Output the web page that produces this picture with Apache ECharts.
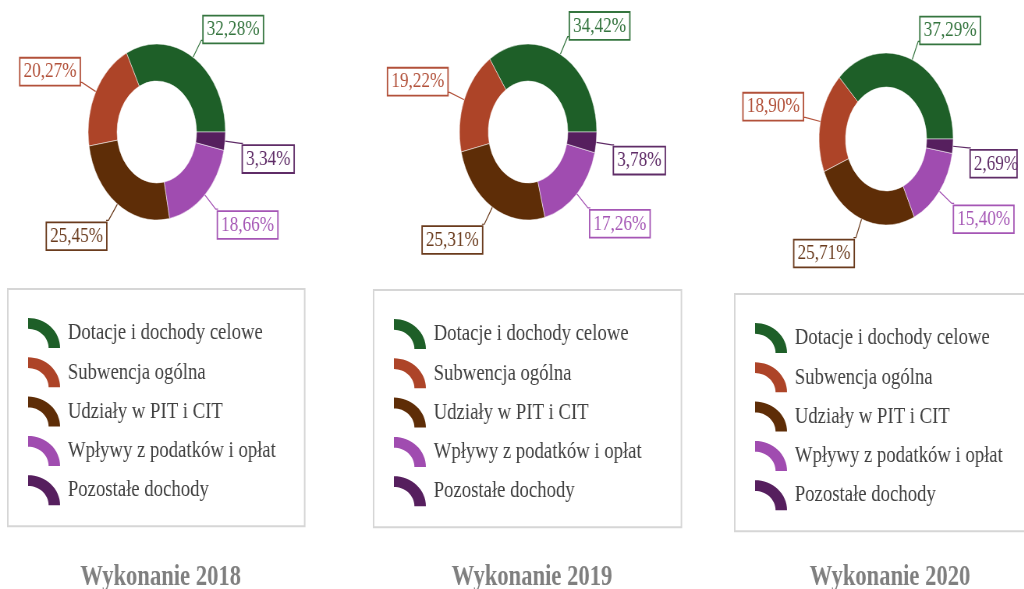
<!DOCTYPE html>
<html>
<head>
<meta charset="utf-8">
<script src="https://cdn.jsdelivr.net/npm/echarts@6/dist/echarts.min.js"></script>
<style>
  html, body { margin: 0; padding: 0; background: #fff; overflow: hidden; }
  #wrap { width: 1024px; height: 589px; overflow: hidden; }
  /* the source picture is squeezed horizontally, so the canvas is drawn wider and scaled down */
  #main { width: 1313px; height: 589px; transform: scaleX(0.78); transform-origin: 0 0; }
</style>
</head>
<body>
<div id="wrap"><div id="main"></div></div>
<script>
const categories = ['Dotacje i dochody celowe', 'Subwencja ogólna', 'Udziały w PIT i CIT', 'Wpływy z podatków i opłat', 'Pozostałe dochody'];
const years = ['2018', '2019', '2020'];
const share2018 = [32.28, 20.27, 25.45, 18.66, 3.34];
const share2019 = [34.42, 19.22, 25.31, 17.26, 3.78];
const share2020 = [37.29, 18.90, 25.71, 15.40, 2.69];

const sliceColors = ['#1e5f28', '#ad4428', '#5e2d07', '#a04cb0', '#561f5e'];
const labelColors = ['#35753f', '#b2513a', '#6a3b1d', '#a556b5', '#5f2c67'];

const chart = echarts.init(document.getElementById('main'));

// quarter of a ring, used as legend icon (wider than tall, the canvas is squeezed later)
function ringIcon() {
  const pts = [];
  const steps = 16;
  const sx = 41 / 30;
  for (let k = 0; k <= steps; k++) {
    const a = Math.PI / 2 * (1 - k / steps);
    pts.push([sx * 100 * Math.cos(a), 100 - 100 * Math.sin(a)]);
  }
  for (let k = 0; k <= steps; k++) {
    const a = Math.PI / 2 * (k / steps);
    pts.push([sx * 64 * Math.cos(a), 100 - 64 * Math.sin(a)]);
  }
  return 'path://M' + pts.map(p => p[0].toFixed(2) + ',' + p[1].toFixed(2)).join(' L') + ' Z';
}

function makePie(values, center, radius) {
  return {
    type: 'pie',
    center: center,
    radius: radius,
    startAngle: 0,
    clockwise: false,
    silent: true,
    data: values.map((v, i) => ({
      name: categories[i],
      value: v,
      itemStyle: { color: sliceColors[i] },
      label: { color: labelColors[i], borderColor: labelColors[i] },
      labelLine: { lineStyle: { color: labelColors[i] } }
    })),
    itemStyle: { borderColor: '#fff', borderWidth: 0.5 },
    label: {
      show: true,
      position: 'outside',
      formatter: p => p.value.toFixed(2).replace('.', ',') + '%',
      fontFamily: 'Liberation Serif',
      fontSize: 22,
      overflow: 'none',
      backgroundColor: '#fff',
      borderWidth: 1.8,
      padding: [3, 4, 1, 4],
      distanceToLabelLine: 0
    },
    labelLine: { show: true, length: 20, length2: 3, lineStyle: { width: 1.2 } },
    labelLayout: function (p) {
      const pts = p.labelLinePoints;
      if (!pts) return {};
      const up = pts[pts.length - 1][1] < pts[0][1];
      return { dy: up ? -p.labelRect.height / 2 + 4 : p.labelRect.height / 2 + 1 };
    }
  };
}

function makeLegend(left, top, padRight) {
  return {
    data: categories,
    orient: 'vertical',
    left: left,
    top: top,
    icon: ringIcon(),
    itemWidth: 41,
    itemHeight: 30,
    itemGap: 9.3,
    selectedMode: false,
    borderColor: '#d6d6d6',
    borderWidth: 2,
    padding: [29, padRight, 21, 26],
    itemStyle: { borderWidth: 0 },
    textStyle: { fontFamily: 'Liberation Serif', fontSize: 24, lineHeight: 28, color: '#404040', padding: [0, 0, 0, 5] }
  };
}

function makeTitle(text, left) {
  return {
    text: text,
    left: left,
    top: 558,
    textAlign: 'center',
    textStyle: { fontFamily: 'Liberation Serif', fontSize: 29, fontWeight: 'bold', color: '#7f7f7f' }
  };
}

const option = {
  animation: false,
  title: [
    makeTitle('Wykonanie ' + years[0], 201),
    makeTitle('Wykonanie ' + years[1], 677),
    makeTitle('Wykonanie ' + years[2], 1136)
  ],
  legend: [
    makeLegend(10, 289, 37),
    makeLegend(479, 290, 51),
    makeLegend(942, 294, 51)
  ],
  series: [
    makePie(share2018, [201, 132], [51, 88]),
    makePie(share2019, [677, 132], [51, 88]),
    makePie(share2020, [1136, 139], [52, 86])
  ]
};

chart.setOption(option);
</script>
</body>
</html>
